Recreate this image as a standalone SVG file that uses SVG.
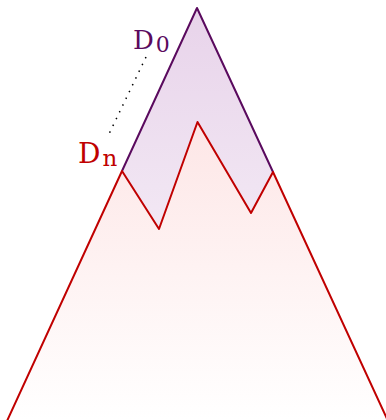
<svg xmlns="http://www.w3.org/2000/svg" width="386" height="420" viewBox="0 0 386 420">
<defs>
<linearGradient id="gp" x1="0" y1="0" x2="0" y2="1">
<stop offset="0" stop-color="#e8d3ea"/>
<stop offset="1" stop-color="#f2e8f4"/>
</linearGradient>
<linearGradient id="gr" gradientUnits="userSpaceOnUse" x1="0" y1="122" x2="0" y2="420">
<stop offset="0" stop-color="#fde6e6"/>
<stop offset="1" stop-color="#ffffff"/>
</linearGradient>
<style>
.lbl{font-family:"DejaVu Serif",serif;}
</style>
</defs>
<g id="d0">
<path d="M122,171 L197,8 L273,172 L251,213 L197.5,122 L159,229 Z" fill="url(#gp)" stroke="none"/>
<path d="M122,171 L197,8 L273,172" fill="none" stroke="#5a0a5e" stroke-width="2" stroke-linejoin="round"/>
<text class="lbl" x="133" y="49" font-size="26" fill="#5a0a5e">D<tspan font-size="22" dx="2" dy="3">0</tspan></text>
</g>
<g id="dn">
<path d="M7,421 L122,171 L159,229 L197.5,122 L251,213 L273,172 L388,421 Z" fill="url(#gr)" stroke="none"/>
<path d="M7,421 L122,171 L159,229 L197.5,122 L251,213 L273,172 L388,421" fill="none" stroke="#c00000" stroke-width="2" stroke-linejoin="round"/>
<text class="lbl" x="78" y="163" font-size="28" fill="#c00000">D<tspan font-size="23" dx="2" dy="3">n</tspan></text>
</g>
<g id="connectors">
<line x1="146" y1="57" x2="109" y2="134" stroke="#000" stroke-width="1.5" stroke-dasharray="1.5 6"/>
</g>
</svg>
